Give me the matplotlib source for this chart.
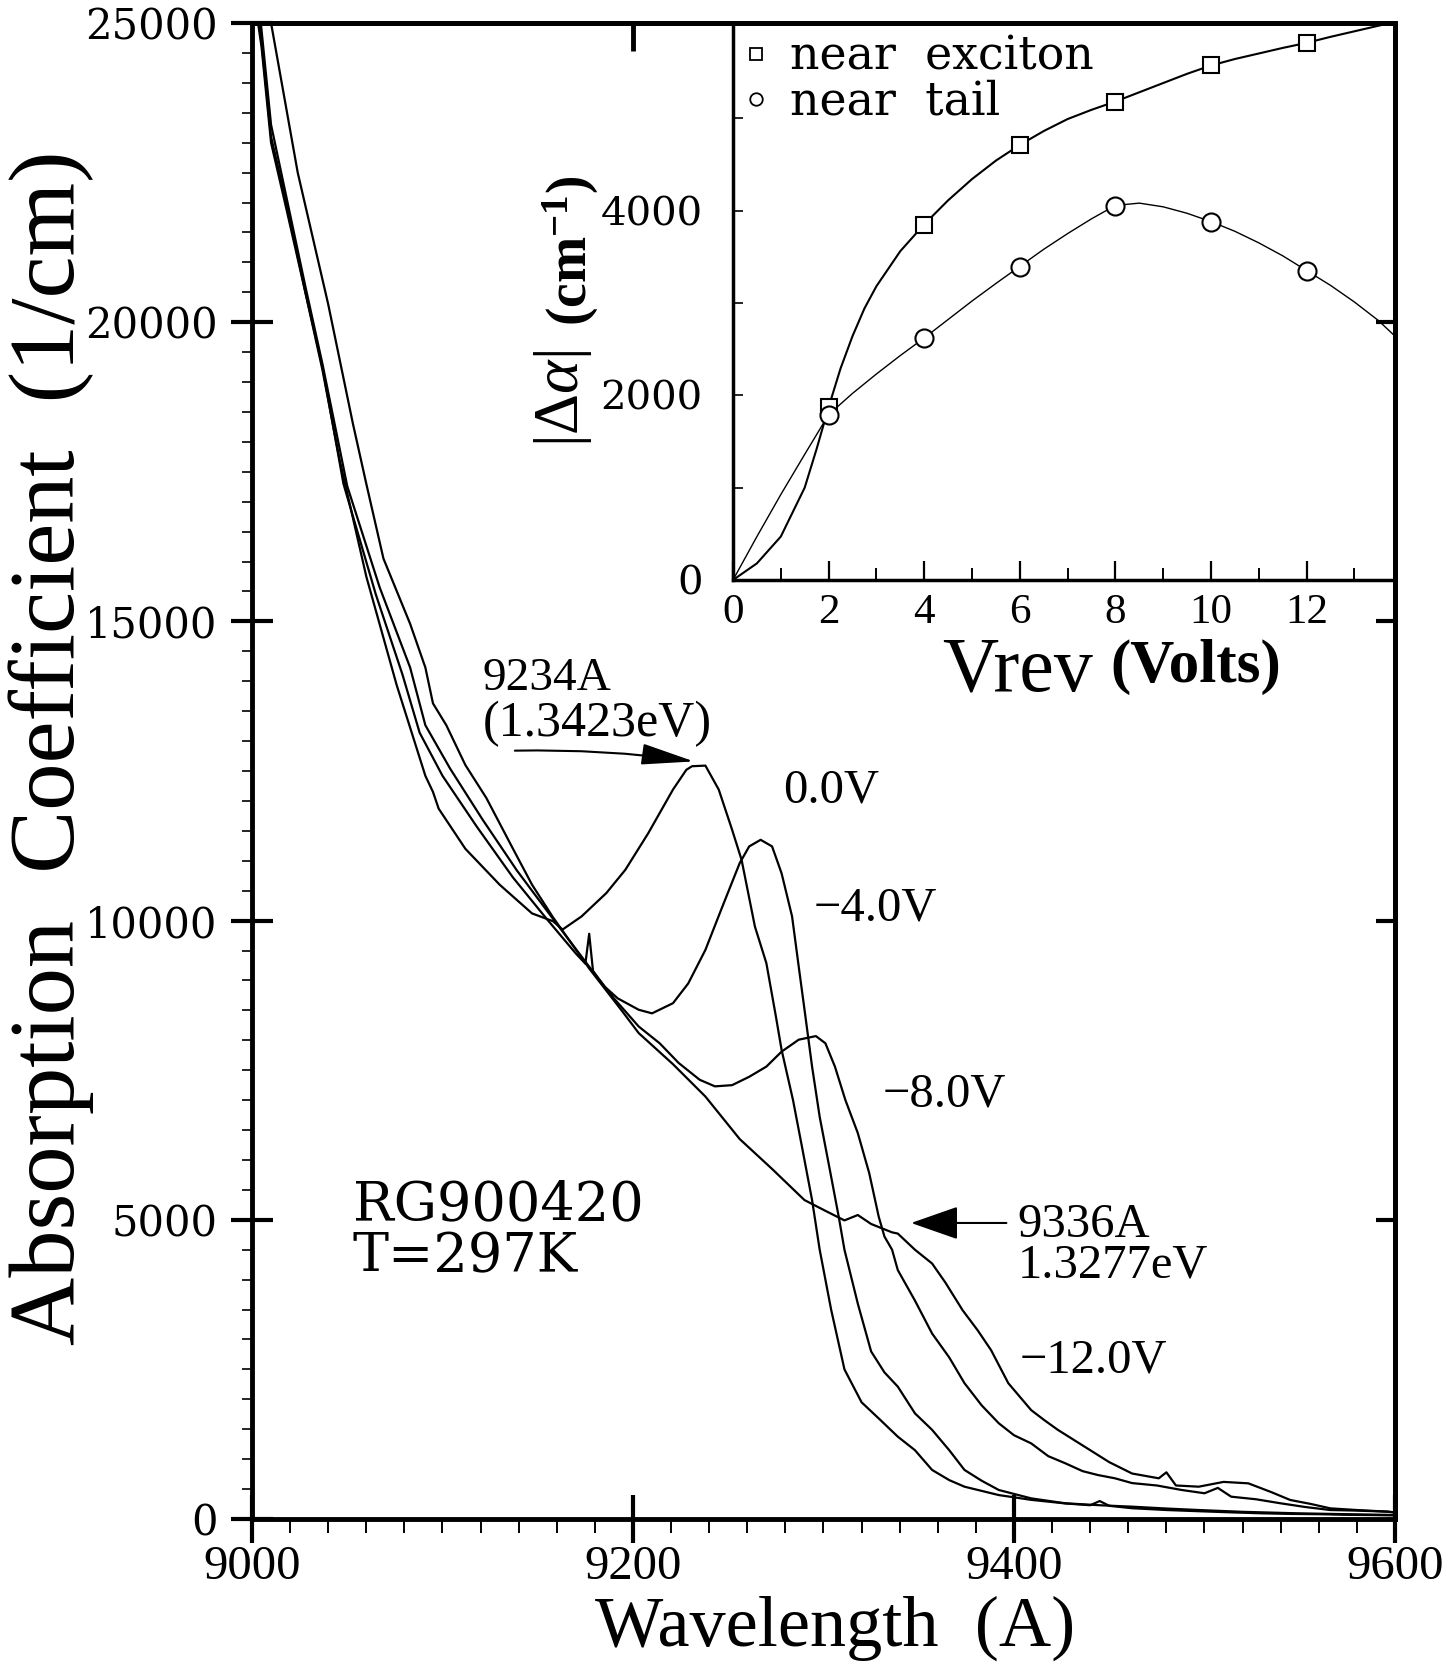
import numpy as np
import matplotlib
matplotlib.use("Agg")
import matplotlib.pyplot as plt
from matplotlib.lines import Line2D
from matplotlib.font_manager import FontProperties

plt.rcParams['font.family'] = ['Liberation Serif', 'DejaVu Serif']
plt.rcParams['mathtext.fontset'] = 'custom'
plt.rcParams['mathtext.rm'] = 'Liberation Serif'
plt.rcParams['mathtext.it'] = 'Liberation Serif:italic'
plt.rcParams['mathtext.bf'] = 'Liberation Serif:bold'

# ---------------- main spectra (wavelength in A, alpha in 1/cm) ----------------
wl_0V = [9000, 9005, 9010, 9018, 9028, 9037, 9046, 9060, 9076, 9091, 9095, 9098, 9112, 9130,
         9147, 9158, 9163, 9173, 9186, 9196, 9208, 9221, 9228, 9231, 9238, 9245, 9252, 9257,
         9264, 9270, 9275, 9278, 9284, 9289, 9294, 9298, 9304, 9311, 9320, 9330, 9339, 9348,
         9357, 9366, 9374, 9392, 9409, 9427, 9440, 9445, 9450, 9462, 9480, 9497, 9515, 9530,
         9545, 9560, 9575, 9590, 9600]
a_0V = [25700, 24600, 23000, 21900, 20500, 19200, 17700, 15750, 13930, 12420, 12150, 11870, 11200, 10600,
        10120, 9990, 9850, 10070, 10460, 10850, 11460, 12190, 12520, 12580, 12590, 12190, 11520, 11015,
        9900, 9290, 8400, 7840, 7000, 6170, 5330, 4500, 3500, 2500, 1950, 1650, 1376, 1150,
        820, 650, 540, 400, 320, 260, 230, 300, 220, 180, 150, 130, 110, 95,
        85, 80, 70, 65, 60]

wl_4V = [9000, 9004, 9010, 9018, 9028, 9037, 9048, 9065, 9079, 9088, 9100, 9118, 9137, 9154,
         9170, 9175, 9177, 9179, 9185, 9192, 9203, 9210, 9221, 9229, 9238, 9247, 9256, 9261,
         9267, 9273, 9278, 9283.5, 9287, 9290.5, 9294, 9298, 9303, 9308, 9311, 9318, 9325, 9332,
         9339, 9348, 9357, 9366, 9374, 9383, 9392, 9409, 9427, 9445, 9462, 9480, 9497, 9520,
         9549, 9575, 9600]
a_4V = [26000, 25000, 23100, 22000, 20500, 19250, 17300, 15450, 14110, 13140, 12420, 11570, 10720, 10055,
        9450, 9280, 9780, 9160, 8900, 8700, 8510, 8450, 8620, 8950, 9510, 10240, 10960, 11240,
        11350, 11240, 10790, 10070, 9230, 8400, 7560, 6720, 5890, 5050, 4500, 3600, 2800, 2450,
        2212, 1766, 1490, 1150, 820, 640, 485, 345, 262, 230, 206, 175, 150, 120,
        95, 80, 67]

wl_8V = [9000, 9004, 9010, 9018, 9028, 9037, 9050, 9067, 9083, 9091, 9104, 9121, 9139, 9156,
         9179, 9190, 9203, 9214, 9224, 9235, 9243, 9252, 9261, 9270, 9278, 9287, 9296, 9301,
         9306, 9311.5, 9318, 9324, 9329, 9332, 9336, 9339, 9348, 9357, 9366, 9374, 9383, 9392,
         9400, 9409, 9418, 9427, 9436, 9444, 9453, 9462, 9475, 9488, 9500, 9507, 9514, 9527,
         9540, 9553, 9566, 9580, 9596, 9600]
a_8V = [26200, 25200, 23300, 22100, 20600, 19300, 17260, 15570, 14230, 13265, 12540, 11690, 10840, 10115,
        9146, 8700, 8230, 7950, 7620, 7340, 7230, 7250, 7390, 7560, 7810, 8010, 8070, 7950,
        7560, 7000, 6450, 5780, 5050, 4720, 4500, 4160, 3650, 3100, 2700, 2270, 1900, 1600,
        1400, 1264, 1050, 930, 800, 735, 680, 600, 560, 485, 430, 520, 373, 330,
        262, 200, 150, 140, 123, 110]

wl_12V = [9000, 9010, 9024, 9040, 9053, 9060, 9069, 9083, 9091, 9095, 9102, 9112, 9123, 9137,
          9147, 9158, 9177, 9194, 9203, 9221, 9238, 9256, 9273, 9290, 9301, 9311, 9318, 9325,
          9336, 9339, 9348, 9357, 9364, 9373, 9381, 9388, 9397, 9409, 9416, 9423, 9437, 9450,
          9462, 9476, 9480, 9485, 9497, 9510, 9523, 9535, 9545, 9556, 9566, 9580, 9596, 9600]
a_12V = [27000, 25000, 22500, 20300, 18300, 17300, 16050, 14960, 14230, 13630, 13265, 12600, 12050, 11200,
         10600, 10055, 9200, 8500, 8120, 7600, 7060, 6350, 5850, 5330, 5150, 4990, 5080, 4930,
         4790, 4770, 4500, 4270, 3950, 3490, 3150, 2820, 2270, 1820, 1650, 1490, 1210, 950,
         760, 680, 780, 560, 540, 620, 596, 450, 318, 250, 178, 150, 123, 110]

# ---------------- inset data ----------------
v_rev = [2, 4, 6, 8, 10, 12]
near_exciton = [1876, 3846, 4709, 5180, 5571, 5811]
near_tail = [1787, 2620, 3393, 4053, 3875, 3346]

fit_v_exc = [0, 0.5, 1, 1.5, 1.75, 2, 2.25, 2.5, 2.75, 3, 3.5, 4, 4.5, 5, 5.5, 6, 6.5, 7, 7.5, 8,
             8.5, 9, 9.5, 10, 10.5, 11, 11.5, 12, 12.5, 13, 13.5, 13.85]
fit_exciton = [0, 180, 470, 1000, 1420, 1870, 2290, 2640, 2940, 3180, 3560, 3850, 4110, 4340,
               4540, 4710, 4860, 4990, 5090, 5180, 5280, 5380, 5480, 5570, 5640, 5700, 5760,
               5815, 5880, 5940, 6000, 6040]
fit_v_tail = [0, 0.5, 1, 1.5, 2, 2.5, 3, 3.5, 4, 4.5, 5, 5.5, 6, 6.5, 7, 7.5, 8, 8.5, 9, 9.5,
              10, 10.5, 11, 11.5, 12, 12.5, 13, 13.5, 13.85]
fit_tail = [0, 470, 925, 1360, 1790, 2020, 2230, 2430, 2620, 2820, 3020, 3210, 3395, 3580,
            3750, 3910, 4055, 4080, 4040, 3970, 3880, 3775, 3650, 3510, 3350, 3190, 3010,
            2810, 2640]

x_major = [9000, 9200, 9400, 9600]
x_tick_labels = ['9000', '9200', '9400', '9600']
y_major = [0, 5000, 10000, 15000, 20000, 25000]
y_tick_labels = ['0', '5000', '10000', '15000', '20000', '25000']
in_x_major = [0, 2, 4, 6, 8, 10, 12]
in_y_major = [0, 1000, 2000, 3000, 4000, 5000]
in_y_labels = ['0', '', '2000', '', '4000', '']

W, H = 1450, 1663
fig = plt.figure(figsize=(W / 100, H / 100), dpi=100)
fig.patch.set_facecolor('white')

ax = fig.add_axes([252 / W, 1 - 1519 / H, (1395 - 252) / W, (1519 - 23) / H])
ax_in = fig.add_axes([733 / W, 1 - 580 / H, (1395 - 733) / W, (580 - 23) / H])
ax.set_zorder(2)
ax.patch.set_visible(False)
ax_in.set_zorder(1)

# ---- main curves
for wl, a in [(wl_0V, a_0V), (wl_4V, a_4V), (wl_8V, a_8V), (wl_12V, a_12V)]:
    ax.plot(wl, a, color='black', lw=1.6)

ax.set_xlim(9000, 9600)
ax.set_ylim(0, 25000)
ax.set_xticks(x_major)
ax.set_xticklabels(x_tick_labels)
ax.set_xticks(np.arange(9000, 9601, 20), minor=True)
ax.set_yticks(y_major)
ax.set_yticklabels(y_tick_labels)
ax.set_yticks(np.arange(0, 25001, 500), minor=True)
for s in ax.spines.values():
    s.set_linewidth(3.5)
ax.tick_params(axis='x', which='major', direction='inout', length=34, width=3, labelsize=35, pad=1.5)
ax.tick_params(axis='x', which='minor', direction='out', length=10, width=1.4)
ax.tick_params(axis='y', which='major', direction='inout', length=30, width=3, labelsize=30, pad=10)
ax.tick_params(axis='y', which='minor', direction='out', length=7, width=1.2)
for lbl in ax.get_yticklabels():
    lbl.set_fontfamily('DejaVu Serif')
for lbl in ax.get_xticklabels():
    lbl.set_fontfamily('Liberation Serif')

sec_top = ax.secondary_xaxis('top')
sec_top.set_xticks([9200])
sec_top.tick_params(direction='in', length=20, width=3.5, labeltop=False)
sec_top.spines['top'].set_linewidth(3.5)
sec_right = ax.secondary_yaxis('right')
sec_right.set_yticks([5000, 10000, 15000, 20000])
sec_right.tick_params(direction='in', length=14, width=3, labelright=False)
sec_right.spines['right'].set_linewidth(3.5)

# ---- annotations
ax.annotate('', xy=(9232, 12660), xytext=(9138, 12840),
            arrowprops=dict(arrowstyle='-|>,head_length=1.1,head_width=0.22',
                            connectionstyle='arc3,rad=-0.04', lw=1.5, color='black',
                            shrinkA=0, shrinkB=0, mutation_scale=30))
ax.text(9121, 14040, '9234A', fontsize=34, va='center', ha='left')
ax.text(9121, 13280, '(1.3423eV)', fontsize=36, va='center', ha='left')
ax.annotate('', xy=(9346, 4947), xytext=(9396, 4947),
            arrowprops=dict(arrowstyle='-|>,head_length=1.0,head_width=0.35',
                            lw=1.5, color='black', shrinkA=0, shrinkB=0, mutation_scale=30))
ax.text(9402, 4914, '9336A', fontsize=35, va='center', ha='left')
ax.text(9402, 4239, '1.3277eV', fontsize=35, va='center', ha='left')
ax.text(9279, 12170, '0.0V', fontsize=35, va='center', ha='left')
ax.text(9294.7, 10195, '\u22124.0V', fontsize=35, va='center', ha='left')
ax.text(9330.8, 7093, '\u22128.0V', fontsize=35, va='center', ha='left')
ax.text(9403, 2641, '\u221212.0V', fontsize=35, va='center', ha='left')
ax.text(9053, 5248, 'RG900420', fontsize=39, va='center', ha='left', family='DejaVu Serif')
ax.text(9053, 4379, 'T=297K', fontsize=39, va='center', ha='left', family='DejaVu Serif')

fig.text(51 / W, 1 - 748 / H, 'Absorption  Coefficient  (1/cm)', rotation=90,
         fontsize=68, ha='center', va='center')
fig.text(835 / W, 1 - 1646 / H, 'Wavelength  (A)', fontsize=52, ha='center', va='baseline')

# ---- inset
ax_in.plot(fit_v_exc, fit_exciton, color='black', lw=1.5)
ax_in.plot(fit_v_tail, fit_tail, color='black', lw=1.0)
ax_in.plot(v_rev, near_exciton, 's', mfc='white', mec='black', ms=12, mew=1.5, ls='none')
ax_in.plot(v_rev, near_tail, 'o', mfc='white', mec='black', ms=13, mew=1.5, ls='none')
ax_in.set_xlim(0, 13.85)
ax_in.set_ylim(0, 6030)
ax_in.spines['top'].set_visible(False)
ax_in.spines['right'].set_visible(False)
ax_in.spines['left'].set_linewidth(2.5)
ax_in.spines['bottom'].set_linewidth(2.5)
ax_in.set_xticks(in_x_major)
ax_in.set_xticks(np.arange(1, 14, 2), minor=True)
ax_in.set_yticks(in_y_major)
ax_in.set_yticklabels(in_y_labels)
ax_in.tick_params(axis='x', which='major', direction='in', length=14, width=1.6, labelsize=31, pad=10)
ax_in.tick_params(axis='x', which='minor', direction='in', length=9, width=1.4)
ax_in.tick_params(axis='y', which='major', direction='in', length=7, width=1.2, labelsize=29, pad=22)
for lbl in ax_in.get_yticklabels():
    lbl.set_fontfamily('DejaVu Serif')

handles = [Line2D([], [], marker='s', ls='none', mfc='white', mec='black', ms=9, mew=1.3),
           Line2D([], [], marker='o', ls='none', mfc='white', mec='black', ms=9, mew=1.3)]
ax_in.legend(handles, ['near  exciton', 'near  tail'], loc='upper left', frameon=False,
             prop=FontProperties(family='DejaVu Serif', size=33), handlelength=0.5,
             handletextpad=0.5, labelspacing=0.0, borderaxespad=0.15, borderpad=0.1)

fig.text(942 / W, 1 - 690 / H, 'Vrev', fontsize=56, ha='left', va='baseline')
fig.text(1110 / W, 1 - 682 / H, '(Volts)', fontsize=44, fontweight='bold', ha='left', va='baseline')
fig.text(563 / W, 1 - 398 / H, r'$|\Delta\alpha|$', rotation=90, fontsize=46, ha='center', va='center')
fig.text(571 / W, 1 - 251 / H, r'$\mathbf{(cm^{-1})}$', rotation=90, fontsize=40, ha='center', va='center')

fig.savefig('out.png', dpi=100, facecolor='white')
